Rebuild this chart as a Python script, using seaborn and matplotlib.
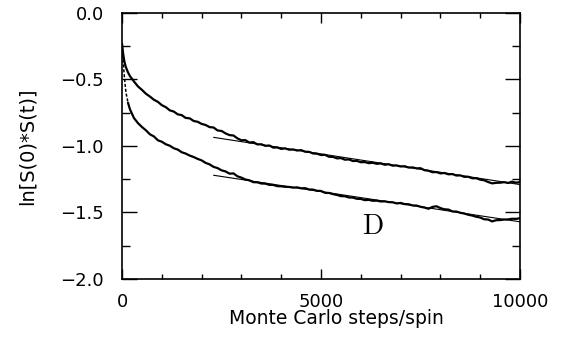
import numpy as np
import pandas as pd
import matplotlib
matplotlib.use("Agg")
import matplotlib.pyplot as plt
import seaborn as sns
from matplotlib.ticker import MultipleLocator, FixedLocator, FuncFormatter

# ---------------- data ----------------
steps = [0, 25, 50, 75, 100, 150] + list(range(200, 10001, 100))

upper = [-0.23, -0.30, -0.35, -0.385, -0.410, -0.447,
         -0.475, -0.515, -0.552, -0.578, -0.607, -0.628, -0.652, -0.668, -0.693,
         -0.708, -0.732, -0.741, -0.762, -0.768, -0.789, -0.792, -0.812, -0.818, -0.834,
         -0.842, -0.858, -0.861, -0.883, -0.887, -0.905, -0.918, -0.921, -0.943, -0.957,
         -0.956, -0.974, -0.971, -0.988, -0.987, -0.999, -0.996, -1.012, -1.011, -1.022,
         -1.018, -1.028, -1.026, -1.034, -1.031, -1.043, -1.044, -1.056, -1.058, -1.068,
         -1.066, -1.081, -1.082, -1.093, -1.091, -1.103, -1.101, -1.113, -1.112, -1.122,
         -1.121, -1.129, -1.126, -1.134, -1.131, -1.141, -1.137, -1.148, -1.146, -1.154,
         -1.152, -1.162, -1.161, -1.168, -1.167, -1.182, -1.186, -1.197, -1.196, -1.206,
         -1.203, -1.213, -1.211, -1.222, -1.221, -1.232, -1.231, -1.243, -1.242, -1.253,
         -1.258, -1.271, -1.281, -1.277, -1.276, -1.272, -1.278, -1.268, -1.276, -1.271]

lower = [-0.24, -0.34, -0.45, -0.53, -0.600, -0.675,
         -0.725, -0.790, -0.828, -0.857, -0.882, -0.912, -0.928, -0.957, -0.968,
         -0.987, -0.998, -1.017, -1.027, -1.047, -1.057, -1.072, -1.083, -1.097, -1.108,
         -1.127, -1.138, -1.157, -1.166, -1.183, -1.191, -1.208, -1.206, -1.228, -1.238,
         -1.252, -1.258, -1.272, -1.273, -1.282, -1.283, -1.292, -1.293, -1.302, -1.303,
         -1.307, -1.308, -1.313, -1.311, -1.318, -1.317, -1.327, -1.328, -1.337, -1.338,
         -1.352, -1.353, -1.362, -1.368, -1.377, -1.378, -1.387, -1.388, -1.397, -1.398,
         -1.407, -1.405, -1.412, -1.411, -1.417, -1.416, -1.422, -1.423, -1.432, -1.428,
         -1.437, -1.438, -1.447, -1.448, -1.457, -1.463, -1.472, -1.458, -1.453, -1.467,
         -1.476, -1.478, -1.492, -1.493, -1.502, -1.508, -1.517, -1.523, -1.532, -1.538,
         -1.551, -1.553, -1.567, -1.558, -1.557, -1.553, -1.552, -1.547, -1.548, -1.543]

fit_steps = [2300, 10000]
fit_upper = [-0.935, -1.290]
fit_lower = [-1.220, -1.570]

xticks = [0, 5000, 10000]
label_text = "D"
label_pos = (6300, -1.605)

# ---------------- figure ----------------
sns.set_style("ticks")
plt.rcParams['font.family'] = ['DejaVu Sans']
plt.rcParams['text.color'] = 'black'
plt.rcParams['axes.labelcolor'] = 'black'

fig = plt.figure(figsize=(5.65, 3.43), dpi=100)
ax = fig.add_axes([0.216, 0.1866, 0.7044, 0.7755])

df = pd.DataFrame({"t": steps, "upper": upper, "lower": lower})
early = df[df["t"] <= 150]
late = df[df["t"] >= 150]

sns.lineplot(data=df, x="t", y="upper", color="black", lw=1.6,
             estimator=None, sort=False, ax=ax)
sns.lineplot(data=early, x="t", y="lower", color="black", lw=1.1,
             linestyle=(0, (2.0, 1.2)), estimator=None, sort=False, ax=ax)
sns.lineplot(data=late, x="t", y="lower", color="black", lw=1.6,
             estimator=None, sort=False, ax=ax)
sns.lineplot(x=fit_steps, y=fit_upper, color="black", lw=0.8, ax=ax)
sns.lineplot(x=fit_steps, y=fit_lower, color="black", lw=0.8, ax=ax)

ax.text(label_pos[0], label_pos[1], r"$\mathrm{" + label_text + "}$",
        fontsize=20, math_fontfamily="cm", ha="center", va="center", color="black")

ax.set_xlim(0, 10000)
ax.set_ylim(-2, 0)
ax.xaxis.set_major_locator(FixedLocator(xticks))
ax.xaxis.set_minor_locator(MultipleLocator(1000))
ax.yaxis.set_major_locator(MultipleLocator(0.5))
ax.yaxis.set_minor_locator(MultipleLocator(0.25))
ax.xaxis.set_major_formatter(FuncFormatter(lambda v, p: f"{v:.0f}"))
ax.yaxis.set_major_formatter(
    FuncFormatter(lambda v, p: f"{v:.1f}".replace("-", "\u2212") if abs(v) > 1e-9 else "0.0"))

ax.tick_params(which="both", direction="in", top=True, right=True,
               width=1.0, color="black", labelsize=13, labelcolor="black")
ax.tick_params(axis="x", which="major", length=7.5, pad=10)
ax.tick_params(axis="x", which="minor", length=3.6)
ax.tick_params(axis="y", which="major", length=10.5, pad=13)
ax.tick_params(axis="y", which="minor", length=5.8)

for s in ax.spines.values():
    s.set_linewidth(1.2)
    s.set_color("black")

ax.set_xlabel("Monte Carlo steps/spin", fontsize=13.5, color="black")
ax.set_ylabel("ln[S(0)*S(t)]", fontsize=14, color="black")
ax.xaxis.label.set_va("center")
ax.yaxis.label.set_va("center")
ax.xaxis.set_label_coords(0.538, -0.150)
ax.yaxis.set_label_coords(-0.239, 0.5)

fig.savefig("out.png", dpi=100, facecolor="white")
